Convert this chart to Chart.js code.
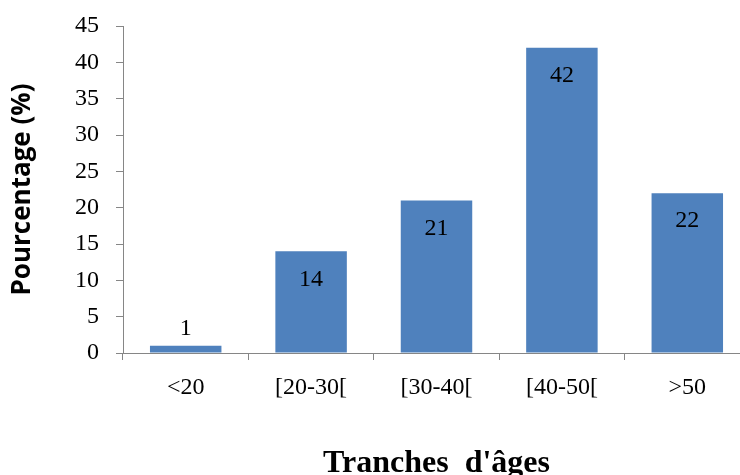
<!DOCTYPE html>
<html>
<head>
<meta charset="utf-8">
<script src="https://cdn.jsdelivr.net/npm/chart.js@4.4.1/dist/chart.umd.min.js"></script>
<style>
  html, body { margin: 0; padding: 0; background: #ffffff; overflow: hidden; }
  #frame { width: 740px; height: 475px; overflow: hidden; position: relative; }
  #box { width: 752px; height: 490px; position: absolute; left: 0; top: 0; }
</style>
</head>
<body>
<div id="frame"><div id="box"><canvas id="chart"></canvas></div></div>
<script>
// Age groups and their share of respondents (%)
const ageGroups = ['<20', '[20-30[', '[30-40[', '[40-50[', '>50'];
const percentages = [1, 14, 21, 42, 22];
const yTicks = [0, 5, 10, 15, 20, 25, 30, 35, 40, 45];

const axisGrey = '#868686';
const barBlue = '#4F81BD';
const serif = '"Liberation Serif", "Times New Roman", serif';

// Writes each bar's value near its top: inside for tall bars, above for short ones
const valueLabels = {
  id: 'valueLabels',
  afterDatasetsDraw(chart) {
    const ctx = chart.ctx;
    const meta = chart.getDatasetMeta(0);
    ctx.save();
    ctx.font = '24px ' + serif;
    ctx.fillStyle = '#000000';
    ctx.textAlign = 'center';
    ctx.textBaseline = 'middle';
    meta.data.forEach((bar, i) => {
      const h = bar.base - bar.y;
      const y = h > 40 ? bar.y + 28 : bar.y - 17.5;
      ctx.fillText(String(percentages[i]), bar.x, y);
    });
    ctx.restore();
  }
};

new Chart(document.getElementById('chart'), {
  type: 'bar',
  data: {
    labels: ageGroups,
    datasets: [{
      data: percentages,
      backgroundColor: barBlue,
      borderWidth: 0,
      categoryPercentage: 1,
      barPercentage: 0.57
    }]
  },
  options: {
    responsive: true,
    maintainAspectRatio: false,
    animation: false,
    devicePixelRatio: 1,
    layout: { padding: { left: 0, right: 2, top: 26, bottom: 0 } },
    plugins: {
      legend: { display: false },
      tooltip: { enabled: false }
    },
    scales: {
      x: {
        type: 'category',
        offset: true,
        border: { display: true, color: axisGrey, width: 1 },
        grid: {
          offset: true,
          drawOnChartArea: false,
          drawTicks: true,
          tickLength: 7,
          color: axisGrey
        },
        ticks: {
          color: '#000000',
          font: { family: serif, size: 24 },
          padding: 13,
          maxRotation: 0,
          autoSkip: false
        },
        title: {
          display: true,
          text: "Tranches  d'âges",
          color: '#000000',
          font: { family: serif, size: 32, weight: 'bold' },
          padding: { top: 0, bottom: 7 }
        },
        afterFit(scale) { scale.height = 137; }
      },
      y: {
        min: 0,
        max: 45,
        border: { display: true, color: axisGrey, width: 1 },
        grid: {
          drawOnChartArea: false,
          drawTicks: true,
          tickLength: 7,
          color: axisGrey
        },
        afterBuildTicks(scale) {
          scale.ticks = yTicks.map(v => ({ value: v }));
        },
        ticks: {
          color: '#000000',
          font: { family: serif, size: 24 },
          padding: 17
        },
        title: {
          display: true,
          text: 'Pourcentage (%)',
          color: '#000000',
          font: { family: '"Open Sans", sans-serif', size: 26, weight: 'bold' },
          padding: { top: 7, bottom: 0 }
        },
        afterFit(scale) {
          scale.width = 123;
          scale.paddingTop = 12;
          scale.paddingBottom = 12;
        }
      }
    }
  },
  plugins: [valueLabels]
});
</script>
</body>
</html>
